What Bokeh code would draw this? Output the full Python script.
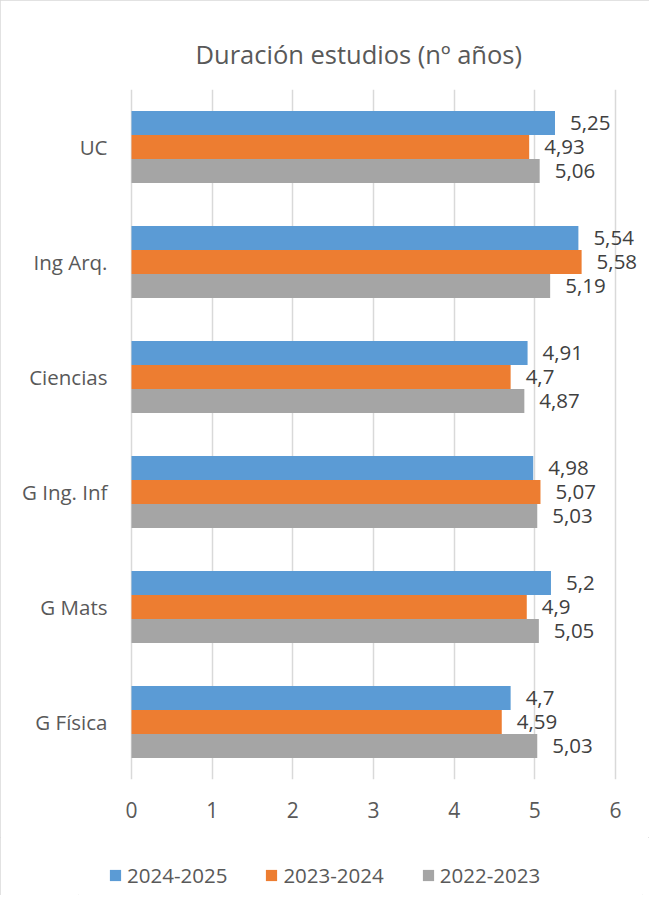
from bokeh.plotting import figure
from bokeh.layouts import column
from bokeh.models import FactorRange, Range1d, FixedTicker, Legend, LegendItem, ColumnDataSource
from bokeh.transform import dodge
from bokeh.core.properties import value
from bokeh.embed import file_html
from bokeh.resources import INLINE

categories = ["UC", "Ing Arq.", "Ciencias", "G Ing. Inf", "G Mats", "G Física"]
series = ["2024-2025", "2023-2024", "2022-2023"]
v_2024_2025 = [5.25, 5.54, 4.91, 4.98, 5.2, 4.7]
v_2023_2024 = [4.93, 5.58, 4.7, 5.07, 4.9, 4.59]
v_2022_2023 = [5.06, 5.19, 4.87, 5.03, 5.05, 5.03]
x_ticks = [0, 1, 2, 3, 4, 5, 6]
colors = ["#5b9bd5", "#ed7d31", "#a5a5a5"]

FONT = "Open Sans"
TXT = "#595959"
BAR_H = 0.209
offsets = [BAR_H, 0.0, -BAR_H]

# layout (canvas pixels)
W = 649
H_MAIN, H_LEG = 837, 58
FRAME_L, FRAME_R = 78, 642
ZERO_PX, SIX_PX = 131, 615
u = 6 / (SIX_PX - ZERO_PX)
X_MIN = -(ZERO_PX - FRAME_L) * u
X_MAX = 6 + (FRAME_R - SIX_PX) * u

p = figure(
    width=W, height=H_MAIN,
    y_range=FactorRange(*reversed(categories), range_padding=0),
    x_range=Range1d(X_MIN, X_MAX),
    output_backend="svg", toolbar_location=None,
    min_border_left=FRAME_L, min_border_right=W - FRAME_R,
    min_border_top=89, min_border_bottom=H_MAIN - 779,
)
p.outline_line_color = None

p.title.text = "Duración estudios (nº años)"
p.title.align = "left"
p.title.offset = 195 - FRAME_L
p.title.text_font = FONT
p.title.text_font_size = "25.5px"
p.title.text_font_style = "normal"
p.title.text_color = TXT
p.title.standoff = 37

all_vals = [v_2024_2025, v_2023_2024, v_2022_2023]
for vals, col, off in zip(all_vals, colors, offsets):
    src = ColumnDataSource(dict(
        cat=categories, val=vals,
        lbl=[str(v).replace(".", ",") for v in vals],
    ))
    p.hbar(y=dodge("cat", off, range=p.y_range), left=0, right="val",
           height=BAR_H, source=src, fill_color=col, line_color=None)
    p.text(x="val", y=dodge("cat", off, range=p.y_range), text="lbl", source=src,
           x_offset=15, text_align="left", text_baseline="middle",
           text_font=value(FONT), text_font_size="20.5px", text_color="#404040")

p.xaxis.ticker = FixedTicker(ticks=x_ticks)
p.xaxis.axis_line_color = None
p.xaxis.major_tick_line_color = None
p.xaxis.major_tick_out = 0
p.xaxis.minor_tick_line_color = None
p.xaxis.major_label_standoff = 22
p.xaxis.major_label_text_font = FONT
p.xaxis.major_label_text_font_size = "21px"
p.xaxis.major_label_text_color = TXT

p.yaxis.axis_line_color = None
p.yaxis.major_tick_line_color = None
p.yaxis.major_tick_out = 0
p.yaxis.major_label_standoff = FRAME_L - 107
p.yaxis.major_label_text_font = FONT
p.yaxis.major_label_text_font_size = "20.5px"
p.yaxis.major_label_text_color = TXT

p.ygrid.grid_line_color = None
p.xgrid.grid_line_color = "#d9d9d9"
p.xgrid.grid_line_width = 1.5

# legend strip below the chart (frame aligned with the main chart's frame)
q = figure(width=W, height=H_LEG, x_range=Range1d(0, 1), y_range=Range1d(0, 1),
           output_backend="svg", toolbar_location=None,
           x_axis_location=None, y_axis_location=None,
           min_border_left=FRAME_L, min_border_right=W - FRAME_R,
           min_border_top=0, min_border_bottom=0)
q.grid.visible = False
q.outline_line_color = None
items = []
for name, col in zip(series, colors):
    # swatch renderer kept outside the visible range; only its legend entry shows
    r = q.quad(left=[-1], right=[-1], top=[-1], bottom=[-1], fill_color=col, line_color=None)
    items.append(LegendItem(label=name, renderers=[r]))
LEG_PAD = 2
legend = Legend(items=items, orientation="horizontal", location=(110 - LEG_PAD - FRAME_L, 6),
                glyph_width=14, glyph_height=14, label_standoff=5, spacing=37,
                padding=LEG_PAD, margin=0, border_line_color=None,
                background_fill_alpha=0,
                label_text_font=FONT, label_text_font_size="20.5px",
                label_text_color=TXT)
q.add_layout(legend)

layout = column(p, q, spacing=0)
layout.styles = {"outline": "1px solid #d9d9d9", "outline-offset": "-1px"}
open("out.html", "w").write(file_html(layout, INLINE))
